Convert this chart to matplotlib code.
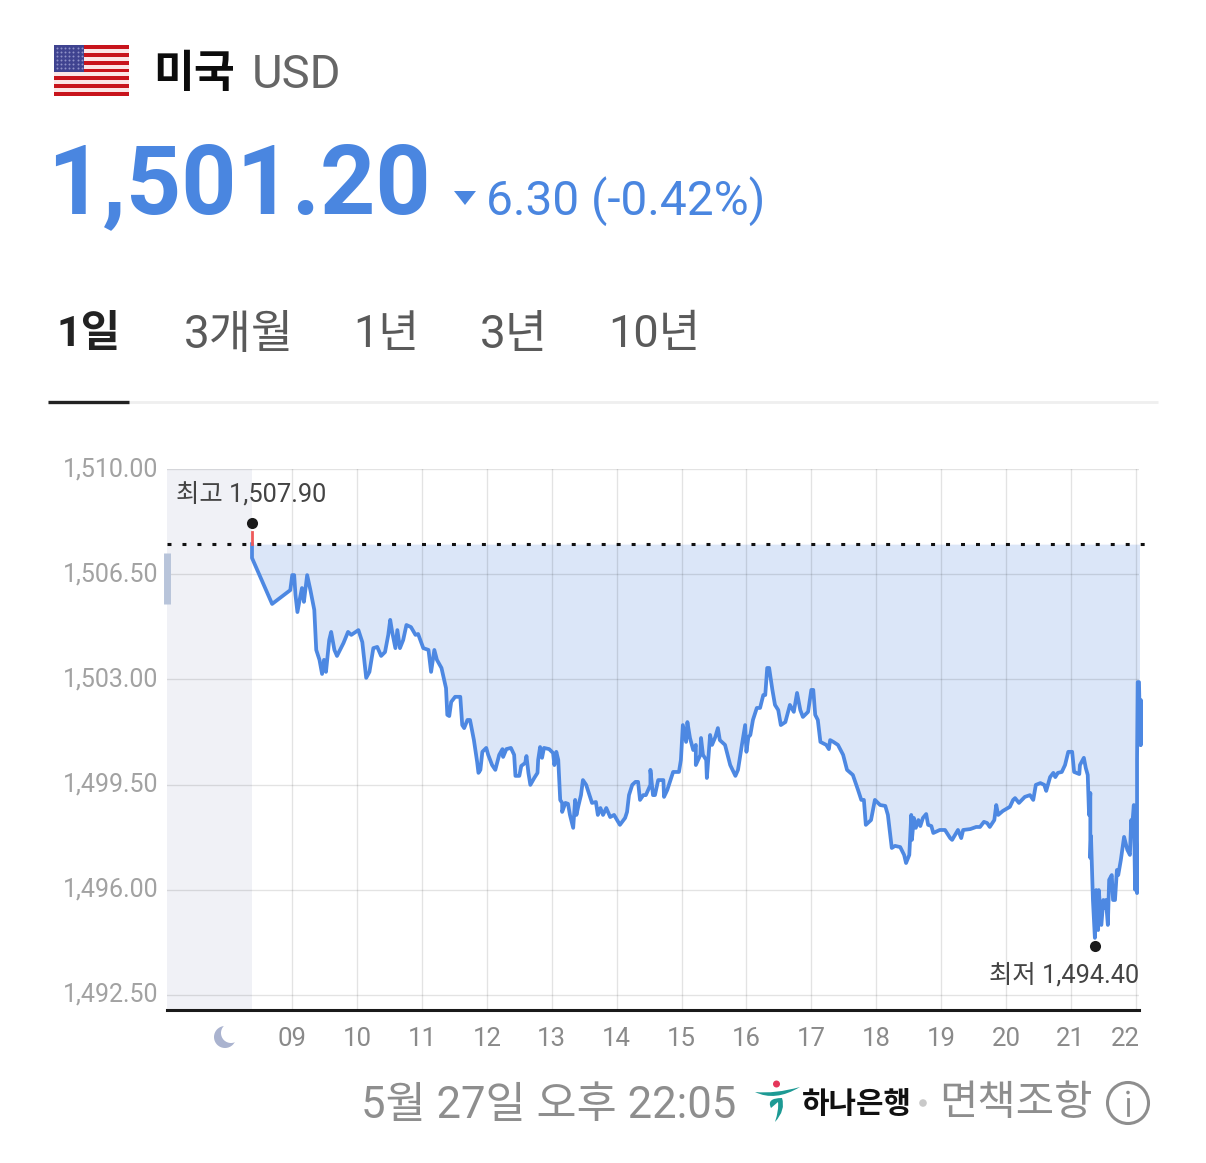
import numpy as np
import matplotlib
matplotlib.use("Agg")
import matplotlib.pyplot as plt
from matplotlib.patches import Rectangle, Circle, Polygon, PathPatch
from matplotlib.path import Path
from matplotlib.transforms import ScaledTranslation

FONT = ['Roboto', 'Noto Sans CJK KR', 'DejaVu Sans']
plt.rcParams['font.family'] = FONT

hours = [8.38,8.38,8.69,8.97,9.0,9.03,9.05,9.08,9.12,9.15,9.18,9.23,9.28,9.34,9.37,9.42,9.46,9.49,9.52,9.57,9.60,9.65,9.69,9.79,9.86,9.91,
10.02,10.08,10.14,10.19,10.25,10.31,10.37,10.43,10.48,10.51,10.54,10.59,10.62,10.66,10.71,10.76,10.83,10.90,10.94,
11.02,11.10,11.14,11.19,11.23,11.30,11.37,11.39,11.42,11.45,11.51,11.59,11.62,11.65,11.70,11.74,11.80,11.85,11.87,11.90,11.93,11.99,
12.02,12.08,12.13,12.19,12.24,12.25,12.30,12.37,12.42,12.44,12.50,12.53,12.59,12.61,12.64,12.67,12.73,12.78,12.79,12.82,12.85,12.88,12.96,
13.02,13.04,13.07,13.10,13.13,13.16,13.16,13.21,13.25,13.28,13.33,13.36,13.38,13.41,13.45,13.48,13.53,13.58,13.62,13.68,13.71,13.75,13.79,13.84,13.90,13.96,
14.05,14.13,14.16,14.19,14.24,14.29,14.33,14.36,14.41,14.45,14.52,14.52,14.56,14.59,14.64,14.72,14.73,14.78,14.87,14.96,14.99,
15.02,15.07,15.09,15.13,15.18,15.22,15.22,15.29,15.30,15.33,15.38,15.39,15.44,15.47,15.52,15.56,15.59,15.67,15.75,15.83,15.87,15.93,15.98,
16.0,16.03,16.06,16.10,16.16,16.21,16.26,16.29,16.32,16.35,16.40,16.44,16.49,16.53,16.60,16.67,16.73,16.78,16.83,16.87,16.95,
17.0,17.03,17.06,17.10,17.14,17.23,17.27,17.29,17.34,17.41,17.49,17.55,17.64,17.72,17.77,17.81,17.84,17.92,17.98,
18.06,18.14,18.18,18.24,18.29,18.37,18.43,18.46,18.51,18.54,18.55,18.58,18.61,18.65,18.68,18.72,18.77,18.80,18.85,18.88,18.98,
19.06,19.14,19.17,19.26,19.31,19.34,19.45,19.54,19.60,19.66,19.71,19.75,19.82,19.85,19.88,19.95,
20.06,20.11,20.14,20.20,20.29,20.37,20.42,20.46,20.53,20.59,20.62,20.68,20.73,20.76,20.80,20.86,20.91,20.96,
21.02,21.05,21.13,21.14,21.20,21.23,21.26,21.28,21.30,21.30,21.31,21.34,21.37,21.39,21.42,21.43,21.47,21.50,21.53,21.54,21.57,21.59,21.63,21.65,21.68,21.71,21.73,21.77,21.82,21.87,21.91,21.93,21.94,21.97,21.99,
22.0,22.02,22.02,22.03,22.05,22.07,22.08,22.08,22.07]

rates = [1507.5,1507.04,1505.51,1505.97,1506.47,1506.47,1505.81,1505.24,1505.71,1506.04,1505.58,1506.47,1505.97,1505.31,1503.98,1503.65,1503.18,1503.65,1503.25,1504.31,1504.58,1503.98,1503.78,1504.21,1504.58,1504.48,
1504.64,1504.24,1503.05,1503.25,1504.04,1504.08,1503.78,1503.91,1504.48,1504.98,1504.58,1504.04,1504.64,1504.04,1504.31,1504.81,1504.74,1504.48,1504.51,
1504.04,1503.98,1503.25,1503.98,1503.65,1503.38,1502.71,1501.82,1501.78,1502.25,1502.42,1502.42,1501.48,1501.38,1501.65,1501.65,1500.98,1500.25,1499.89,1499.99,1500.59,1500.72,
1500.49,1500.15,1499.99,1500.49,1500.68,1500.42,1500.68,1500.72,1500.49,1499.79,1499.79,1500.12,1500.22,1500.45,1499.89,1499.49,1499.72,1499.89,1500.32,1500.75,1500.39,1500.72,1500.68,
1500.55,1500.15,1500.59,1500.32,1498.99,1498.89,1498.59,1498.89,1498.86,1498.49,1498.06,1498.99,1498.49,1498.79,1499.15,1499.65,1499.49,1499.15,1498.89,1498.92,1498.49,1498.72,1498.49,1498.72,1498.42,1498.49,
1498.16,1498.39,1498.59,1499.15,1499.49,1499.59,1499.59,1498.99,1499.15,1499.15,1499.49,1499.99,1499.15,1499.15,1499.65,1499.65,1499.09,1499.32,1499.92,1499.92,1500.32,
1501.48,1500.92,1501.58,1501.05,1500.65,1500.82,1500.15,1500.49,1501.05,1500.49,1500.32,1499.72,1501.15,1500.82,1501.08,1501.38,1500.98,1500.82,1500.15,1499.79,1499.99,1500.82,1501.48,
1500.59,1501.08,1501.15,1501.65,1502.05,1502.05,1502.48,1502.48,1503.38,1503.38,1502.65,1502.15,1501.98,1501.48,1501.58,1502.15,1501.92,1502.55,1501.98,1501.75,1501.92,
1502.65,1502.65,1501.82,1501.65,1500.92,1500.82,1500.68,1500.98,1500.92,1500.82,1500.49,1499.99,1499.82,1499.32,1498.99,1498.99,1498.16,1498.32,1498.99,
1498.82,1498.79,1498.49,1497.39,1497.46,1497.42,1497.16,1496.89,1497.16,1498.49,1497.66,1498.39,1498.06,1498.32,1498.12,1498.39,1498.52,1498.16,1498.12,1497.89,1497.99,
1497.99,1497.72,1497.66,1497.99,1497.72,1497.99,1498.02,1498.09,1498.09,1498.26,1498.22,1498.09,1498.32,1498.82,1498.49,1498.62,
1498.76,1498.99,1499.05,1498.89,1499.09,1499.15,1498.99,1499.49,1499.55,1499.49,1499.29,1499.75,1499.89,1499.75,1499.89,1499.92,1500.15,1500.59,
1500.59,1499.92,1499.85,1500.15,1500.39,1500.05,1499.82,1498.49,1499.22,1497.06,1497.79,1495.66,1494.40,1495.99,1494.66,1495.99,1494.83,1495.66,1495.40,1495.66,1494.83,1496.33,1496.49,1495.66,1495.66,1496.66,1496.49,1496.99,1497.76,1497.33,1497.16,1498.32,1497.99,1498.82,1496.0,
1498.32,1495.89,1500.32,1502.91,1502.91,1500.82,1502.31,1500.82,1501.20]

prev_close = 1507.50
day_high = 1507.90
day_low = 1494.40
high_hour = 8.38
low_hour = 21.37
y_ticks = [1510.0, 1506.5, 1503.0, 1499.5, 1496.0, 1492.5]
x_ticks = list(range(9, 23))
x_labels = ['09','10','11','12','13','14','15','16','17','18','19','20','21','22']
tabs = ['1일', '3개월', '1년', '3년', '10년']

W, H = 1206, 1163
fig = plt.figure(figsize=(W/100, H/100), dpi=100, facecolor='white')

# chart axes
L, R, T, B = 167, 1139, 469, 1010
ax = fig.add_axes([L/W, 1-B/H, (R-L)/W, (B-T)/H])
ax.set_xlim(7.07, 22.05)
ax.set_ylim(1492.0, 1510.0)
ax.axvspan(7.07, high_hour, color='#f0f1f6', lw=0, zorder=0)
h = np.array(hours); v = np.array(rates)
ax.fill_between(h, v, prev_close, color='#dbe6f8', lw=0, zorder=1)
for s in ['top', 'left', 'right']:
    ax.spines[s].set_visible(False)
ax.spines['bottom'].set_color('#1a1a1a')
ax.spines['bottom'].set_linewidth(2.2)
ax.set_xticks(x_ticks)
ax.set_xticklabels(x_labels)
ax.set_yticks(y_ticks)
ax.set_yticklabels([f'{t:,.2f}' for t in y_ticks])
ax.tick_params(axis='x', length=0, pad=12, labelsize=18.5, labelcolor='#8a8a8a')
ax.tick_params(axis='y', length=0, pad=6, labelsize=18, labelcolor='#a2a2a2')
ax.grid(True, color='black', alpha=0.11, lw=1.0, zorder=2)
ax.set_axisbelow(False)
last = ax.get_xticklabels()[-1]
last.set_ha('right')
last.set_transform(last.get_transform() + ScaledTranslation(4/100, 0, fig.dpi_scale_trans))
for lab in ax.get_yticklabels():
    lab.set_transform(lab.get_transform() + ScaledTranslation(0, 2.5/100, fig.dpi_scale_trans))

ax.plot(h, v, color='#4d88e2', lw=2.7, zorder=4, clip_on=False, solid_joinstyle='round')
ax.plot([high_hour, high_hour], [day_high, prev_close], color='#ee5a5a', lw=2, zorder=4)
ax.plot([7.07, 22.2], [prev_close, prev_close], color='#111111', lw=2.2,
        linestyle=(0, (1.3, 3.6)), zorder=5, clip_on=False)
ax.plot([7.07, 7.07], [1505.5, 1507.2], color='#b8c4da', lw=5, zorder=3, clip_on=False,
        solid_capstyle='butt')
ax.plot([high_hour], [day_high + 0.3], 'o', color='#1a1a1a', ms=8, zorder=6, mew=0)
ax.plot([low_hour], [day_low - 0.26], 'o', color='#1a1a1a', ms=8, zorder=6, mew=0)

# page overlay in image pixels
ov = fig.add_axes([0, 0, 1, 1], facecolor='none')
ov.set_xlim(0, W); ov.set_ylim(H, 0); ov.axis('off')

ov.text(176, 494, f'최고 {day_high:,.2f}', fontsize=18.3, color='#444444', va='center', ha='left')
ov.text(1139, 975, f'최저 {day_low:,.2f}', fontsize=18.3, color='#444444', va='center', ha='right')

# flag
fx, fy, fw, fh = 54, 45, 75, 51
for i in range(13):
    ov.add_patch(Rectangle((fx, fy+i*fh/13), fw, fh/13, color='#c8141c' if i % 2 == 0 else '#fbe6e6', lw=0))
ov.add_patch(Rectangle((fx, fy), 30, 27, color='#3f4390', lw=0))
sx, sy = np.meshgrid(np.arange(fx+2.5, fx+30, 4.2), np.arange(fy+3, fy+27, 4.0))
ov.scatter(sx.ravel(), sy.ravel(), s=2.0, color='#8f92c8', lw=0)

ov.text(153, 75, '미국', fontsize=32, fontweight='bold', color='#0c0c0c', va='center', ha='left')
ov.text(252, 75, 'USD', fontsize=34, color='#666666', va='center', ha='left')
ov.text(47, 187, '1,501.20', fontsize=69.5, fontweight='bold', color='#4a86e0', va='center', ha='left')
ov.add_patch(Polygon([(454, 191), (476, 191), (465, 205)], color='#4a86e0', lw=0))
ov.text(486, 201, '6.30 (-0.42%)', fontsize=34.4, color='#4a86e0', va='center', ha='left')

tab_x = [56, 184, 353, 480, 608]
tab_size = [31, 33, 32, 33, 32.5]
for i, (t, x, s) in enumerate(zip(tabs, tab_x, tab_size)):
    ov.text(x, 335, t, fontsize=s, color='#222222' if i == 0 else '#5a5a5a',
            fontweight='bold' if i == 0 else 'normal', va='center', ha='left')
ov.plot([48, 1158], [401.5, 401.5], color='#efefef', lw=2, solid_capstyle='butt')
ov.plot([48, 129], [401.5, 401.5], color='#222222', lw=2.4, solid_capstyle='butt')

# moon
ov.add_patch(Circle((225, 1037), 11, color='#aab3cf', lw=0))
ov.add_patch(Circle((231, 1033), 10, color='white', lw=0))

# footer
ov.text(361, 1106, '5월 27일 오후 22:05', fontsize=31.4, color='#8e8e8e', va='center', ha='left')
ov.add_patch(Circle((776.5, 1084), 3.5, color='#e5365a', lw=0))
sw = Path([(755, 1092), (775, 1102), (800, 1087), (775, 1094), (755, 1092)],
          [Path.MOVETO, Path.CURVE3, Path.CURVE3, Path.CURVE3, Path.CURVE3])
ov.add_patch(PathPatch(sw, color='#1d9a94', lw=0))
hook = Path([(771, 1108), (766, 1098), (782, 1098), (786, 1110), (775, 1122), (779, 1110), (778, 1102), (771, 1108)],
            [Path.MOVETO, Path.CURVE3, Path.CURVE3, Path.CURVE3, Path.CURVE3, Path.CURVE3, Path.CURVE3, Path.LINETO])
ov.add_patch(PathPatch(hook, color='#1d9a94', lw=0))
ov.text(802, 1105, '하나은행', fontsize=21.5, fontweight='bold', color='#111111', va='center', ha='left')
ov.add_patch(Circle((923, 1103), 3.8, color='#c9c9c9', lw=0))
ov.text(939, 1103, '면책조항', fontsize=30, color='#8e8e8e', va='center', ha='left')
ov.add_patch(Circle((1128, 1103), 20.5, fill=False, ec='#8e8e8e', lw=2.2))
ov.add_patch(Circle((1128, 1092.5), 1.8, color='#8e8e8e', lw=0))
ov.plot([1128, 1128], [1099, 1115], color='#8e8e8e', lw=2)

fig.savefig('out.png', dpi=100, facecolor='white')
